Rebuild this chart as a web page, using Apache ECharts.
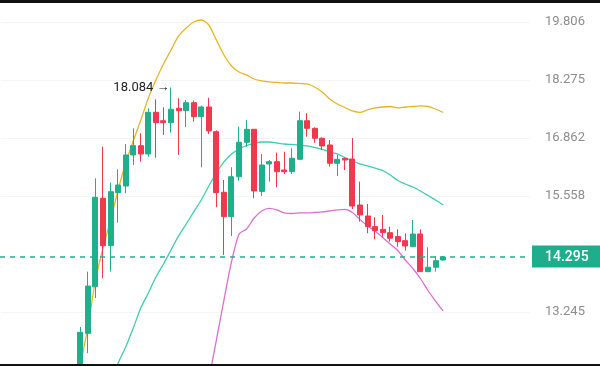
<!DOCTYPE html>
<html><head><meta charset="utf-8">
<script src="https://cdn.jsdelivr.net/npm/echarts@6/dist/echarts.min.js"></script>
<style>html,body{margin:0;padding:0;background:#fff}#c{width:600px;height:366px}</style>
</head><body><div id="c"></div>
<script>
// ---- data ----
const slotCount = 70;                 // category slots on the time axis
const categories = Array.from({length: slotCount}, (_, i) => 'P' + (i + 1));
const candleStart = 10;               // first slot with a visible candle
const opens  = [12.20, 12.859, 13.718, 15.509, 14.522, 15.630, 15.775, 16.469, 16.683, 16.492, 17.474, 17.271, 17.224, 17.571, 17.513, 17.708, 17.368, 17.603, 17.010, 15.638, 15.118, 15.980, 16.762, 17.067, 15.656, 16.265, 16.317, 16.129, 16.091, 16.371, 17.271, 17.090, 16.855, 16.699, 16.280, 16.394, 16.378, 15.365, 15.132, 14.910, 14.855, 14.786, 14.708, 14.623, 14.501, 14.759, 14.007, 14.093, 14.236];
const closes = [12.877, 13.731, 15.530, 14.522, 15.651, 15.797, 16.469, 16.683, 16.492, 17.474, 17.224, 17.224, 17.547, 17.513, 17.708, 17.368, 17.603, 17.027, 15.630, 15.118, 15.980, 16.762, 17.067, 15.666, 16.242, 16.317, 16.091, 16.091, 16.394, 17.271, 17.090, 16.855, 16.676, 16.280, 16.371, 16.355, 15.344, 15.154, 14.910, 14.827, 14.786, 14.672, 14.603, 14.515, 14.759, 14.007, 14.093, 14.222, 14.295];
const lows   = [12.05, 12.508, 13.505, 13.879, 14.007, 14.992, 15.617, 16.242, 16.317, 16.430, 16.407, 16.933, 16.987, 16.469, 17.121, 17.248, 16.190, 16.956, 15.316, 14.336, 14.719, 15.891, 16.660, 15.509, 15.558, 15.869, 15.747, 16.040, 16.040, 16.355, 16.893, 16.752, 16.583, 16.204, 15.996, 16.129, 15.280, 15.013, 14.774, 14.651, 14.692, 14.603, 14.501, 14.421, 14.495, 14.001, 14.001, 14.007, 14.226];
const highs  = [12.972, 14.007, 15.945, 16.660, 15.848, 16.145, 16.722, 17.090, 16.972, 17.571, 17.791, 17.596, 18.084, 17.816, 17.774, 17.762, 17.640, 17.830, 17.040, 15.907, 16.190, 17.129, 17.288, 17.070, 16.492, 16.355, 16.521, 16.544, 16.622, 17.489, 17.450, 17.110, 16.878, 16.815, 16.469, 16.410, 16.862, 15.869, 15.387, 15.105, 15.154, 14.910, 14.855, 14.774, 15.048, 14.855, 14.489, 14.315, 14.315];

const upperStart = 9;
const upperBand  = [11.72, 12.307, 12.972, 13.846, 14.475, 15.048, 15.688, 16.287, 16.792, 17.288, 17.824, 18.275, 18.685, 19.052, 19.426, 19.643, 19.806, 19.861, 19.724, 19.318, 18.920, 18.634, 18.479, 18.403, 18.300, 18.250, 18.225, 18.212, 18.199, 18.199, 18.187, 18.174, 18.099, 17.973, 17.799, 17.676, 17.591, 17.506, 17.470, 17.530, 17.579, 17.603, 17.615, 17.579, 17.603, 17.615, 17.628, 17.615, 17.554, 17.470];
const middleStart = 13;
const middleBand  = [11.793, 12.061, 12.341, 12.618, 12.954, 13.319, 13.599, 13.904, 14.158, 14.435, 14.719, 14.965, 15.217, 15.472, 15.776, 16.062, 16.310, 16.492, 16.606, 16.687, 16.734, 16.768, 16.768, 16.745, 16.722, 16.711, 16.699, 16.676, 16.641, 16.595, 16.544, 16.492, 16.412, 16.332, 16.265, 16.220, 16.174, 16.118, 16.018, 15.896, 15.819, 15.753, 15.666, 15.569, 15.472, 15.365];
const lowerStart = 27;
const lowerBand  = [12.053, 12.740, 13.467, 14.197, 14.759, 14.862, 15.090, 15.238, 15.291, 15.259, 15.196, 15.185, 15.196, 15.196, 15.206, 15.217, 15.238, 15.259, 15.270, 15.206, 15.059, 14.924, 14.821, 14.688, 14.556, 14.425, 14.236, 14.069, 13.875, 13.646, 13.448, 13.264];

const yTicks = [13.245, 15.558, 16.862, 18.275, 19.806];
const yMin = 12.323, yMax = 20.335;
const lastPrice = 14.295;
const peakHigh = 18.084;
const peakIndex = 22;

// ---- chart ----
const UP = '#1fb08b', DOWN = '#f0394f', PRICE = '#1fae8c';
const candleData = opens.map((o, i) => [candleStart + i, o, closes[i], lows[i], highs[i]]);
const toLine = (arr, start) => arr.map((v, i) => [start + i, v]);

const chart = echarts.init(document.getElementById('c'), null, {renderer: 'canvas'});
chart.setOption({
  animation: false,
  backgroundColor: '#ffffff',
  grid: {left: 1, right: 70, top: 3, bottom: 2, containLabel: false},
  xAxis: {
    type: 'category', data: categories, boundaryGap: true,
    axisLine: {show: false}, axisTick: {show: false}, axisLabel: {show: false},
    splitLine: {show: false}
  },
  yAxis: {
    type: 'log', position: 'right', min: yMin, max: yMax, logBase: 10,
    axisLine: {show: false},
    axisTick: {show: false, customValues: yTicks},
    axisLabel: {
      customValues: yTicks, formatter: v => Number(v).toFixed(3),
      color: '#8d8d8d', fontSize: 13, fontFamily: 'Roboto', margin: 15
    },
    splitLine: {show: true, lineStyle: {color: '#f5f5f5', width: 1}}
  },
  series: [
    {
      type: 'line', data: toLine(upperBand, upperStart), symbol: 'none', smooth: 0.25,
      lineStyle: {color: '#e8b520', width: 1.3}, z: 2
    },
    {
      type: 'line', data: toLine(middleBand, middleStart), symbol: 'none', smooth: 0.25,
      lineStyle: {color: '#3fcdb2', width: 1.3}, z: 2
    },
    {
      type: 'line', data: toLine(lowerBand, lowerStart), symbol: 'none', smooth: 0.25,
      lineStyle: {color: '#dc6ed2', width: 1.3}, z: 2
    },
    {
      type: 'candlestick', data: candleData, encode: {x: 0, y: [1, 2, 3, 4]},
      barWidth: 5.5, z: 3,
      itemStyle: {color: UP, color0: DOWN, borderColor: UP, borderColor0: DOWN, borderWidth: 1},
      markPoint: {
        silent: true,
        data: [{coord: [peakIndex, peakHigh], symbol: 'circle', symbolSize: 1,
                itemStyle: {color: 'rgba(0,0,0,0)', borderWidth: 0}}],
        label: {
          show: true, position: 'left', distance: 1,
          formatter: () => peakHigh.toFixed(3) + ' \u2192',
          color: '#222222', fontSize: 13, fontFamily: 'Roboto'
        }
      }
    }
  ]
});

// last-price line and tag, positioned through the y axis scale
const py = chart.convertToPixel({yAxisIndex: 0}, lastPrice);
const gridRight = 600 - 70;
chart.setOption({
  graphic: [
    {type: 'rect', shape: {x: 0, y: 0, width: 600, height: 3}, style: {fill: '#111111'}, z: 100},
    {type: 'rect', shape: {x: 0, y: 364, width: 600, height: 2}, style: {fill: '#111111'}, z: 100},
    {type: 'line', shape: {x1: 0, y1: py, x2: gridRight, y2: py}, z: 50, silent: true,
     style: {stroke: '#21b08e', lineWidth: 1.6, lineDash: [5, 5]}},
    {type: 'rect', shape: {x: gridRight + 2, y: py - 11.5, width: 600 - gridRight - 2, height: 22}, z: 60,
     style: {fill: PRICE}, silent: true},
    {type: 'text', x: gridRight + 15, y: py, z: 61, silent: true,
     style: {text: lastPrice.toFixed(3), fill: '#ffffff', font: '500 14px Roboto',
             textAlign: 'left', textVerticalAlign: 'middle'}}
  ]
});
</script></body></html>
